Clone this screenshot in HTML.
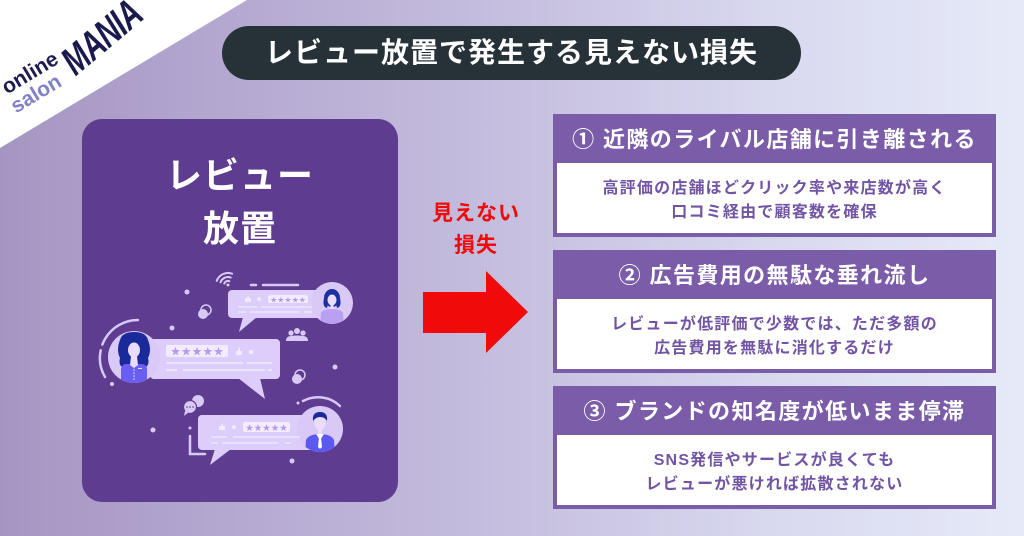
<!DOCTYPE html>
<html><head><meta charset="utf-8">
<style>
*{margin:0;padding:0;box-sizing:border-box}
html,body{width:1024px;height:536px;overflow:hidden}
body{position:relative;font-family:"Liberation Sans","Noto Sans CJK JP",sans-serif;background:linear-gradient(90deg,#a595c2 0%,#b6aad2 25%,#c6bfdf 50%,#d8d8ef 75%,#e6eaf8 100%)}
.abs{position:absolute}
.pill{left:222px;top:26px;width:579px;height:54px;border-radius:27px;background:#263238;color:#fff;font-weight:700;font-size:28px;line-height:54px;text-align:center;letter-spacing:1px}
.card{left:82px;top:119px;width:316px;height:383px;border-radius:20px;background:#5e3c8f}
.ct{left:82px;width:316px;text-align:center;color:#fff;font-weight:700;font-size:36px;letter-spacing:1px;line-height:53px}
.red{left:410px;width:132px;text-align:center;color:#f00a0a;font-weight:700;font-size:21px;line-height:32px;letter-spacing:1px}
.box{left:553px;width:443px;height:123px;background:#7a5ca8;padding:0 4px 4px 4px}
.bh{height:49px;line-height:51px;color:#fff;font-weight:700;font-size:22px;text-align:center;letter-spacing:1.4px;white-space:nowrap}
.bb{background:#fff;height:70px;padding-top:14px;color:#7155a4;font-weight:700;font-size:16px;line-height:24px;text-align:center;letter-spacing:1.2px;white-space:nowrap}
.lg{transform-origin:0 100%;transform:rotate(-31deg);white-space:nowrap;font-weight:700;line-height:1}
</style></head><body>
<svg class="abs" style="left:0;top:0" width="1024" height="536" viewBox="0 0 1024 536">
<polygon points="0,0 247,0 0,148" fill="#ffffff"/>
</svg>
<div class="abs lg" style="left:9px;top:77px;font-size:21px;color:#1d1b4f;">online</div>
<div class="abs lg" style="left:18px;top:96px;font-size:21px;color:#8081c6;">salon</div>
<div class="abs lg" style="left:80px;top:42px;font-size:40px;color:#1b1a4e;font-style:italic;transform:rotate(-40deg) scaleX(0.72);letter-spacing:-1px;">MANIA</div>

<div class="abs pill">レビュー放置で発生する見えない損失</div>

<div class="abs card"></div>
<div class="abs ct" style="top:149px">レビュー</div>
<div class="abs ct" style="top:202px">放置</div>

<svg class="abs" style="left:0;top:0" width="1024" height="536" viewBox="0 0 1024 536">
<defs>
<clipPath id="c1"><circle cx="332" cy="303" r="21"/></clipPath>
<clipPath id="c2"><circle cx="134" cy="357" r="26"/></clipPath>
<clipPath id="c3"><circle cx="320" cy="429" r="23"/></clipPath>
</defs>
<g fill="none" stroke="#d9c9f7" stroke-linecap="round" stroke-width="2">
<path d="M216.7 280.9 A12 12 0 0 1 232.1 273.7"/>
<path d="M220.5 282.3 A8 8 0 0 1 230.7 277.5"/>
<path d="M224.2 283.6 A4 4 0 0 1 229.4 281.2"/>
<path d="M251 285 L256 285 M263 285 L298 285" stroke-width="2.5"/>
<path d="M138 320 A38 38 0 0 0 105 377" stroke-width="2.5" stroke-dasharray="46 6 30"/>
<path d="M303 401 A32 32 0 0 1 340 406" stroke-width="2.5"/>
<path d="M190 436 L190 454 L205 454" stroke-width="2.5"/>
</g>
<circle cx="228" cy="285" r="1.5" fill="#d9c9f7"/>
<g fill="#d9c9f7">
<circle cx="187" cy="292" r="2.5"/>
<circle cx="172" cy="328" r="2.5"/>
<circle cx="112" cy="384" r="2"/>
<circle cx="335" cy="367" r="2.5"/>
<circle cx="153" cy="430" r="2.5"/>
<circle cx="190" cy="428" r="1.5"/>
<circle cx="298" cy="403" r="1.5"/>
<circle cx="292" cy="461" r="2.5"/>
<circle cx="206" cy="310" r="5" fill="none" stroke="#d9c9f7" stroke-width="1.5"/>
<circle cx="203" cy="314" r="5"/>
<circle cx="300" cy="375" r="5" fill="none" stroke="#d9c9f7" stroke-width="1.5"/>
<circle cx="297" cy="379" r="5"/>
<circle cx="291" cy="333" r="2.6"/><circle cx="297" cy="331" r="3"/><circle cx="303" cy="333" r="2.6"/>
<path d="M286 341 Q286 336 291 336 Q297 335 303 336 Q308 336 308 341 Z"/>
<circle cx="198" cy="401" r="6"/>
<circle cx="190" cy="407" r="6.5" stroke="#5e3c8f" stroke-width="1.2"/>
<path d="M185 411 L184 416 L189 412 Z"/>
</g>
<circle cx="187" cy="407" r="0.8" fill="#5e3c8f"/><circle cx="190" cy="407" r="0.8" fill="#5e3c8f"/><circle cx="193" cy="407" r="0.8" fill="#5e3c8f"/>

<g fill="#dccdfa">
<rect x="228" y="290" width="100" height="28" rx="4"/>
<path d="M243 317 L239 332 L257 317 Z"/>
<circle cx="332" cy="303" r="21" fill="#d9c9f7"/>
</g>
<rect x="268" y="295" width="40" height="8" rx="2" fill="#f3ecff"/>
<text x="288" y="302.5" font-family="DejaVu Sans" font-size="8" fill="#b49ae9" text-anchor="middle">★★★★★</text>
<path d="M245 302 L245 298 L247 298 L248 295 L249 296 L249 298 L251 298 L251 302 Z" fill="#f3ecff"/>
<circle cx="259" cy="299" r="2" fill="#f3ecff"/>
<g stroke="#f3ecff" stroke-width="1.2">
<path d="M238 307 L257 307 M261 307 L312 307 M238 312 L246 312 M250 312 L300 312 M304 312 L312 312"/>
</g>
<g clip-path="url(#c1)">
<path d="M320 324 L321 313 Q323 309 332 309 Q341 309 343 313 L344 324 Z" fill="#b9a0f0"/>
<ellipse cx="332" cy="298" rx="8" ry="9" fill="#1e2f9e"/>
<path d="M324 298 Q322 307 327 308 L329 300 Z M340 298 Q342 307 337 308 L335 300 Z" fill="#1e2f9e"/>
<ellipse cx="332" cy="300" rx="4.5" ry="5.5" fill="#ebdcfb"/>
<rect x="330.5" y="304" width="3" height="5" fill="#ebdcfb"/>
</g>

<g fill="#dccdfa">
<rect x="150" y="339" width="130" height="40" rx="4"/>
<path d="M238 378 L265 399 L260 378 Z"/>
<circle cx="134" cy="357" r="26" fill="#d9c9f7"/>
</g>
<rect x="166" y="345" width="62" height="12" rx="2" fill="#f3ecff"/>
<text x="197" y="355.5" font-family="DejaVu Sans" font-size="12" fill="#b49ae9" text-anchor="middle">★★★★★</text>
<path d="M236 355 L236 351 L238 351 L239 347 L240 348 L240 351 L242 351 L242 355 Z" fill="#f3ecff"/>
<circle cx="251" cy="352" r="2.2" fill="#f3ecff"/>
<g stroke="#f3ecff" stroke-width="1.4">
<path d="M166 363 L243 363 M247 363 L272 363 M166 370 L177 370 M183 370 L265 370 M268 370 L272 370"/>
</g>
<g clip-path="url(#c2)">
<path d="M120 340 Q122 332 134 332 Q146 332 148 340 Q152 350 148 358 Q150 366 144 368 L124 368 Q118 366 120 358 Q116 350 120 340 Z" fill="#1a2a9a"/>
<rect x="121" y="364" width="26" height="22" rx="5" fill="#6a5ef2"/>
<ellipse cx="134" cy="350" rx="6" ry="7.5" fill="#ebdcfb"/>
<path d="M131 356 L137 356 L138 365 L134 368 L130 365 Z" fill="#ebdcfb"/>
<g fill="#e5dcff"><circle cx="134" cy="370" r="0.8"/><circle cx="134" cy="373" r="0.8"/><circle cx="134" cy="376" r="0.8"/><circle cx="134" cy="379" r="0.8"/><rect x="138" y="368" width="4" height="1"/></g>
</g>

<g fill="#dccdfa">
<rect x="198" y="415" width="126" height="35" rx="4"/>
<path d="M215 449 L210 465 L231 449 Z"/>
<circle cx="320" cy="429" r="23" fill="#d9c9f7"/>
</g>
<rect x="243" y="422" width="47" height="10" rx="2" fill="#f3ecff"/>
<text x="266.5" y="431" font-family="DejaVu Sans" font-size="9.5" fill="#b49ae9" text-anchor="middle">★★★★★</text>
<path d="M219 430 L219 426 L221 426 L222 423 L223 424 L223 426 L225 426 L225 430 Z" fill="#f3ecff"/>
<circle cx="234" cy="427" r="2" fill="#f3ecff"/>
<g stroke="#f3ecff" stroke-width="1.2">
<path d="M211 437 L227 437 M233 437 L300 437 M211 443 L218 443 M222 443 L278 443 M285 443 L291 443"/>
</g>
<g clip-path="url(#c3)">
<path d="M305 455 L306 440 Q309 434 320 434 Q331 434 334 440 L335 455 Z" fill="#5b59ef"/>
<path d="M316 434 L320 440 L324 434 Z" fill="#ffffff"/>
<path d="M319 437 L321 437 L322 447 L320 449 L318 447 Z" fill="#ffffff"/>
<ellipse cx="320" cy="423" rx="5.5" ry="7" fill="#ebdcfb"/>
<path d="M313 421 Q312 412 320 412 Q328 412 327 421 Q325 417 320 417 Q316 417 313 421 Z" fill="#1a2a9a"/>
<rect x="318" y="428" width="4" height="6" fill="#ebdcfb"/>
</g>
</svg>

<div class="abs red" style="top:198px">見えない</div>
<div class="abs red" style="top:230px">損失</div>
<svg class="abs" style="left:0;top:0" width="1024" height="536" viewBox="0 0 1024 536">
<polygon points="423,292 486,292 486,271 528,312 486,353 486,333 423,333" fill="#f00a0a"/>
</svg>

<div class="abs box" style="top:114px">
<div class="bh">① 近隣のライバル店舗に引き離される</div>
<div class="bb">高評価の店舗ほどクリック率や来店数が高く<br>口コミ経由で顧客数を確保</div>
</div>
<div class="abs box" style="top:250px">
<div class="bh">② 広告費用の無駄な垂れ流し</div>
<div class="bb">レビューが低評価で少数では、ただ多額の<br>広告費用を無駄に消化するだけ</div>
</div>
<div class="abs box" style="top:386px">
<div class="bh">③ ブランドの知名度が低いまま停滞</div>
<div class="bb">SNS発信やサービスが良くても<br>レビューが悪ければ拡散されない</div>
</div>
</body></html>
